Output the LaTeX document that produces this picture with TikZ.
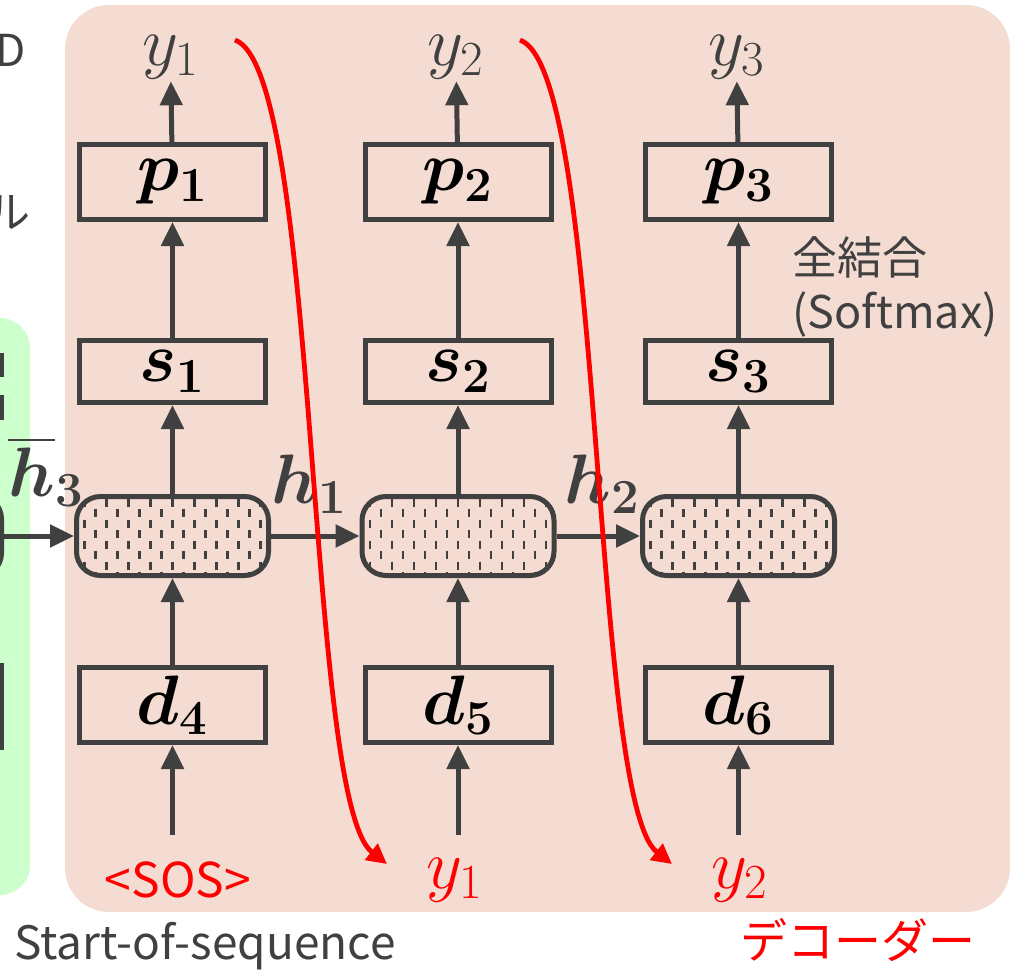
\RequirePackage{fix-cm}
\documentclass[tikz,border=0pt]{standalone}
\usepackage{fontspec}
\usepackage{amsmath}
\usepackage{bm}
\newfontfamily\jpfont{Noto Sans CJK JP}
\usetikzlibrary{arrows.meta}
\definecolor{decbg}{HTML}{F5DCD2}
\definecolor{encbg}{HTML}{CCFFCC}
\definecolor{ink}{HTML}{404040}
\newcommand\boxw{93pt}
\newcommand\rowP{182}
\newcommand\rowS{371.5}
\newcommand\rowC{536}
\newcommand\rowD{705}
\tikzset{box/.style={rectangle,draw=ink,line width=2.5pt,minimum width=\boxw,minimum height=37.5pt,inner sep=0pt,font=\fontsize{35}{38}\selectfont},
  sbox/.style={box,minimum height=31pt},
  cell/.style={rectangle,rounded corners=12pt,draw=ink,line width=2.5pt,minimum width=96pt,minimum height=39.5pt,inner sep=0pt,
    path picture={\foreach \k in {-9,...,9}{
      \pgfmathsetmacro\ph{mod(abs(\k),2)*5.25}
      \draw[ink,line width=1.2pt,dash pattern=on 4pt off 6.5pt,dash phase=\ph pt]
        ([xshift=\k*5.5pt,yshift=-1pt]path picture bounding box.north) -- ([xshift=\k*5.5pt]path picture bounding box.south);}}},
  flow/.style={draw=ink,line width=2.5pt,-{Triangle[length=12pt,width=11pt]}},
  back/.style={draw=red,line width=2.4pt,-{Triangle[length=10pt,width=10pt]}},
  lab/.style={font=\fontsize{35}{38}\selectfont},
  note/.style={font=\jpfont\fontsize{21}{26}\selectfont,text=ink}}

\begin{document}
\begin{tikzpicture}[x=0.5pt,y=-0.5pt]
\clip (0,0) rectangle (1010,974);
\useasboundingbox (0,0) rectangle (1010,974);
\fill[encbg,rounded corners=15pt] (-100,318) rectangle (30,895);
\fill[decbg,rounded corners=22pt] (65,5) rectangle (1010,912);

\draw[ink,line width=2.5pt] (1.5,353) -- (1.5,377) (1.5,395) -- (1.5,420);
\draw[ink,line width=2.5pt,rounded corners=12pt] (-60,495) -- (1.5,495) -- (1.5,577) -- (-60,577);
\draw[ink,line width=2.5pt] (-60,665) -- (1.5,665) -- (1.5,750);
\node[note,anchor=east,font=\jpfont\fontsize{22}{26}\selectfont] (tD) at (33,50) {D};
\node[note,anchor=east,font=\jpfont\fontsize{22}{26}\selectfont] (tL) at (38,213) {ル};

\foreach \i/\x in {1/172.5,2/458,3/738.5}{
  \node[box] (p\i) at (\x,\rowP) {$\bm{p_{\i}}$};
  \node[sbox] (s\i) at (\x,\rowS) {$\bm{s_{\i}}$};
  \node[cell] (c\i) at (\x,\rowC) {};
  \node[box] (d\i) at (\x,\rowD) {$\bm{d_{\the\numexpr\i+3\relax}}$};
  \node[lab,text=ink,inner sep=1pt] (y\i) at (\x-2,57) {$y_{\i}$};
  \coordinate (in\i) at (\x,835);
  \draw[flow] (p\i) -- (y\i);
  \draw[flow] (s\i) -- (p\i);
  \draw[flow] (c\i) -- (s\i);
  \draw[flow] (d\i) -- (c\i);
  \draw[flow] (in\i) -- (d\i);
}
\coordinate (enc) at (0,\rowC);
\draw[flow] (enc) -- (c1);
\draw[flow] (c1) -- (c2);
\draw[flow] (c2) -- (c3);
\node[lab,text=ink] (hbar) at (46,472) {$\bm{\overline{h}_3}$};
\node[lab,text=ink] (h1) at (309,484) {$\bm{h_1}$};
\node[lab,text=ink] (h2) at (602,484) {$\bm{h_2}$};

\node[note,anchor=north west,align=left,inner sep=0pt,font=\jpfont\fontsize{22.5}{27}\selectfont] (fc) at (792,236) {全結合\\(Softmax)};

\node[note,text=red,font=\jpfont\fontsize{24}{28}\selectfont] (sos) at (178,880) {<SOS>};
\node[lab,text=red] (f1) at (455,880) {$y_1$};
\node[lab,text=red] (f2) at (740,880) {$y_2$};
\coordinate (o1) at (235,40);
\coordinate (o2) at (520,40);
\coordinate (e1) at (387,864);
\coordinate (e2) at (672,864);
\draw[back] (o1) .. controls (320,70) and (305,800) .. (e1);
\draw[back] (o2) .. controls (605,70) and (590,800) .. (e2);

\node[note,font=\jpfont\fontsize{23}{27}\selectfont] (start) at (205,946) {Start-of-sequence};
\node[note,text=red,font=\jpfont\fontsize{23.5}{28}\selectfont] (dec) at (858,940) {デコーダー};
\end{tikzpicture}
\end{document}
